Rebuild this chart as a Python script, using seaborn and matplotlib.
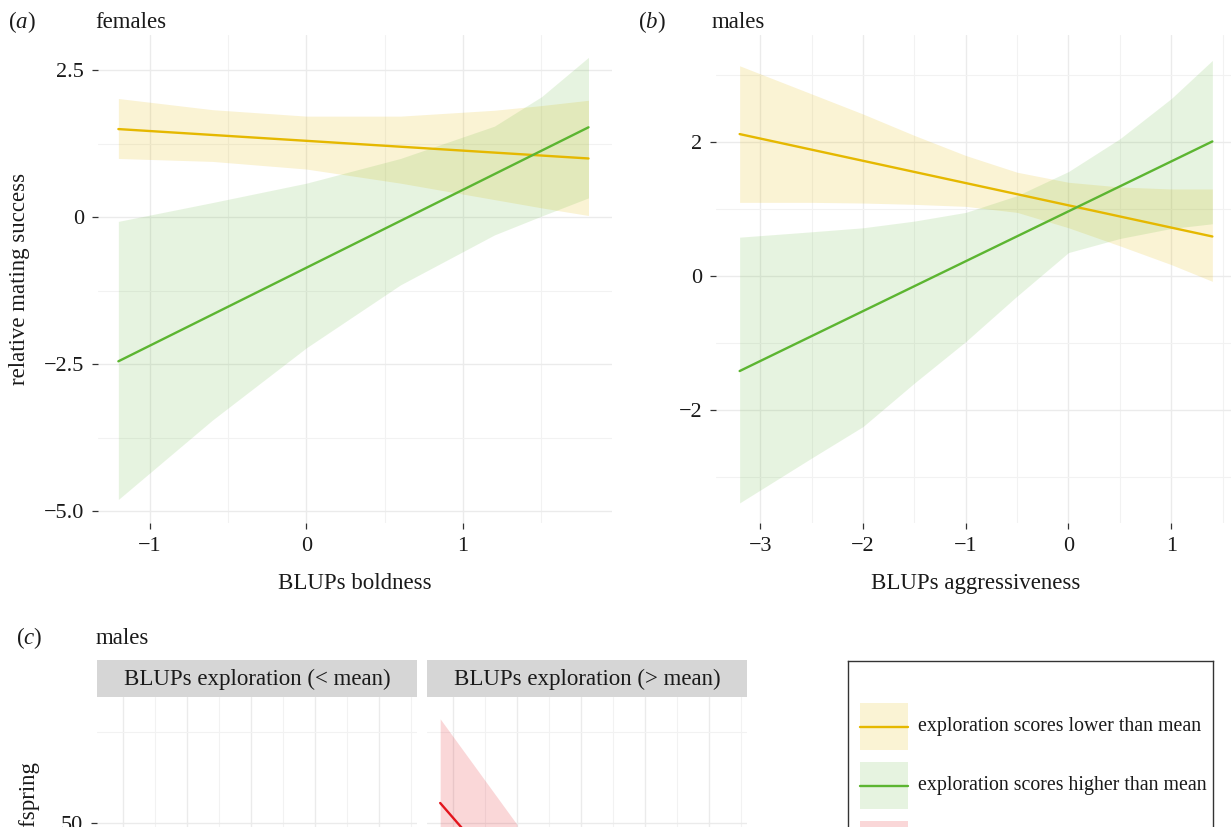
import numpy as np
import pandas as pd
import seaborn as sns
import matplotlib.pyplot as plt
from matplotlib.patches import Rectangle

sns.set_theme(style="white")
plt.rcParams["font.family"] = ["Liberation Serif", "DejaVu Serif"]
plt.rcParams["mathtext.fontset"] = "custom"
plt.rcParams["mathtext.rm"] = "Liberation Serif"
plt.rcParams["mathtext.it"] = "Liberation Serif:italic"

# colours
YELLOW = "#e5b800"
GREEN = "#5cb531"
RED = "#e3151d"

groups = ["exploration scores lower than mean", "exploration scores higher than mean"]

# (a) females - boldness
a_line_x = [-1.2, 1.8]
a_low_line = [1.50, 1.00]
a_high_line = [-2.45, 1.53]
a_band_x = [-1.2, -0.6, 0.0, 0.6, 1.2, 1.5, 1.8]
a_low_upper = [2.02, 1.83, 1.72, 1.72, 1.82, 1.90, 1.99]
a_low_lower = [1.00, 0.95, 0.82, 0.58, 0.30, 0.16, 0.03]
a_high_upper = [-0.07, 0.25, 0.58, 1.00, 1.55, 2.05, 2.72]
a_high_lower = [-4.80, -3.45, -2.22, -1.15, -0.30, 0.02, 0.33]

# (b) males - aggressiveness
b_line_x = [-3.2, 1.4]
b_low_line = [2.12, 0.59]
b_high_line = [-1.42, 2.01]
b_band_x = [-3.2, -2.5, -2.0, -1.5, -1.0, -0.5, 0.0, 0.5, 1.0, 1.4]
b_low_upper = [3.14, 2.72, 2.42, 2.10, 1.80, 1.55, 1.40, 1.33, 1.30, 1.30]
b_low_lower = [1.10, 1.10, 1.09, 1.07, 1.04, 0.95, 0.72, 0.45, 0.17, -0.08]
b_high_upper = [0.58, 0.66, 0.72, 0.82, 0.95, 1.20, 1.56, 2.05, 2.65, 3.22]
b_high_lower = [-3.39, -2.72, -2.25, -1.60, -0.98, -0.30, 0.35, 0.56, 0.71, 0.78]

# (c) males - offspring, right facet (only top of panel visible)
c_strips = ["BLUPs exploration (< mean)", "BLUPs exploration (> mean)"]
c_line_x = [-0.2, 0.6]
c_line_y = [55.5, 39.3]
c_band_x = [-0.2, 0.4, 1.0]
c_band_upper = [78.6, 64.1, 49.6]
c_band_lower = [33.0, 20.0, 10.0]

W, H = 1231, 827
fig = plt.figure(figsize=(W / 100, H / 100), dpi=100)


def px_axes(l, t, r, b):
    return fig.add_axes([l / W, 1 - b / H, (r - l) / W, (b - t) / H])


def style_axes(ax, xmaj, xmin, ymaj, ymin):
    ax.set_facecolor("white")
    for s in ax.spines.values():
        s.set_visible(False)
    ax.set_xticks(xmaj)
    ax.set_xticks(xmin, minor=True)
    ax.set_yticks(ymaj)
    ax.set_yticks(ymin, minor=True)
    ax.grid(which="major", color="#ebebeb", lw=1.0)
    ax.grid(which="minor", color="#f2f2f2", lw=0.8)
    ax.set_axisbelow(True)
    ax.tick_params(which="major", left=True, bottom=True, length=4, width=0.9,
                   color="#333333", labelsize=16, pad=6, labelcolor="#1a1a1a")
    ax.tick_params(which="minor", length=0)


def draw_panel(ax, line_x, low_line, high_line, band_x, lu, ll, hu, hl):
    ax.fill_between(band_x, ll, lu, color=YELLOW, alpha=0.17, lw=0)
    ax.fill_between(band_x, hl, hu, color=GREEN, alpha=0.15, lw=0)
    df = pd.DataFrame({
        "x": line_x * 2,
        "y": low_line + high_line,
        "group": [groups[0]] * 2 + [groups[1]] * 2,
    })
    sns.lineplot(data=df, x="x", y="y", hue="group", palette=[YELLOW, GREEN],
                 lw=1.7, ax=ax, legend=False)


def fmt(v):
    return ("%g" % v).replace("-", "\u2212")


# panel (a)
ax_a = px_axes(98, 35, 612, 523)
draw_panel(ax_a, a_line_x, a_low_line, a_high_line, a_band_x,
           a_low_upper, a_low_lower, a_high_upper, a_high_lower)
ax_a.set_xlim(-1.33, 1.95)
ax_a.set_ylim(-5.2, 3.1)
style_axes(ax_a, [-1, 0, 1], [-0.5, 0.5, 1.5], [-5, -2.5, 0, 2.5], [-3.75, -1.25, 1.25])
ax_a.set_xticklabels([fmt(v) for v in [-1, 0, 1]])
ax_a.set_yticklabels(["\u22125.0", "\u22122.5", "0", "2.5"])
ax_a.set_xlabel("BLUPs boldness", fontsize=16.5, labelpad=12, color="#1a1a1a")
ax_a.set_ylabel("relative mating success", fontsize=16.5, labelpad=10, color="#1a1a1a")

# panel (b)
ax_b = px_axes(716, 35, 1236, 523)
draw_panel(ax_b, b_line_x, b_low_line, b_high_line, b_band_x,
           b_low_upper, b_low_lower, b_high_upper, b_high_lower)
ax_b.set_xlim(-3.43, 1.63)
ax_b.set_ylim(-3.69, 3.6)
style_axes(ax_b, [-3, -2, -1, 0, 1], [-2.5, -1.5, -0.5, 0.5, 1.5], [-2, 0, 2], [-3, -1, 1, 3])
ax_b.set_xticklabels([fmt(v) for v in [-3, -2, -1, 0, 1]])
ax_b.set_yticklabels([fmt(v) for v in [-2, 0, 2]])
ax_b.set_xlabel("BLUPs aggressiveness", fontsize=16.5, labelpad=12, color="#1a1a1a")
ax_b.set_ylabel("")

# panel (c): two facets, cut off by the bottom of the figure
for i, (l, r) in enumerate([(97, 417), (427, 747)]):
    ax = px_axes(l, 697, r, 1000)
    ax.set_xlim(-0.406, 4.594)
    ax.set_ylim(1.4, 84.6)
    style_axes(ax, [0, 1, 2, 3, 4], [0.5, 1.5, 2.5, 3.5, 4.5], [50], [75])
    ax.set_xticklabels([])
    if i == 0:
        ax.set_yticklabels(["50"])
    else:
        ax.set_yticklabels([])
        ax.tick_params(axis="y", length=0)
        ax.fill_between(c_band_x, c_band_lower, c_band_upper, color=RED, alpha=0.17, lw=0)
        sns.lineplot(x=c_line_x, y=c_line_y, color=RED, lw=1.7, ax=ax)
    strip = px_axes(l, 660, r, 697)
    strip.set_facecolor("#d6d6d6")
    strip.set_xticks([])
    strip.set_yticks([])
    for s in strip.spines.values():
        s.set_visible(False)
    strip.text(0.5, 0.47, c_strips[i], ha="center", va="center",
               fontsize=16.5, color="#1a1a1a", transform=strip.transAxes)

fig.text(30 / W, 1 - 762 / H, "number of offspring", rotation=90, ha="center", va="top",
         fontsize=16.5, color="#1a1a1a")

# panel tags and titles
for tag, tx, title, ttx, ty in [("a", 8, "females", 95, 22), ("b", 638, "males", 712, 22),
                                ("c", 16, "males", 96, 638)]:
    fig.text(tx / W, 1 - ty / H, "($\\mathit{%s}$)" % tag, ha="left", va="center",
             fontsize=16.5, color="#1a1a1a")
    fig.text(ttx / W, 1 - ty / H, title, ha="left", va="center",
             fontsize=16.5, color="#1a1a1a")

# legend box (cut off at the bottom)
leg = px_axes(848, 661, 1213, 900)
leg.set_xlim(848, 1213)
leg.set_ylim(900, 661)
leg.set_xticks([])
leg.set_yticks([])
leg.set_facecolor("white")
for s in leg.spines.values():
    s.set_color("#333333")
    s.set_linewidth(1.0)
keys = [(YELLOW, 0.17, groups[0], 703), (GREEN, 0.15, groups[1], 762), (RED, 0.17, None, 821)]
for col, al, lab, top in keys:
    leg.add_patch(Rectangle((860, top), 48, 47, color=col, alpha=al, lw=0))
    if lab is not None:
        leg.plot([860, 908], [top + 24, top + 24], color=col, lw=1.7)
        leg.text(918, top + 24, lab, ha="left", va="center", fontsize=14.3, color="#1a1a1a")

fig.savefig("out.png", dpi=100)
